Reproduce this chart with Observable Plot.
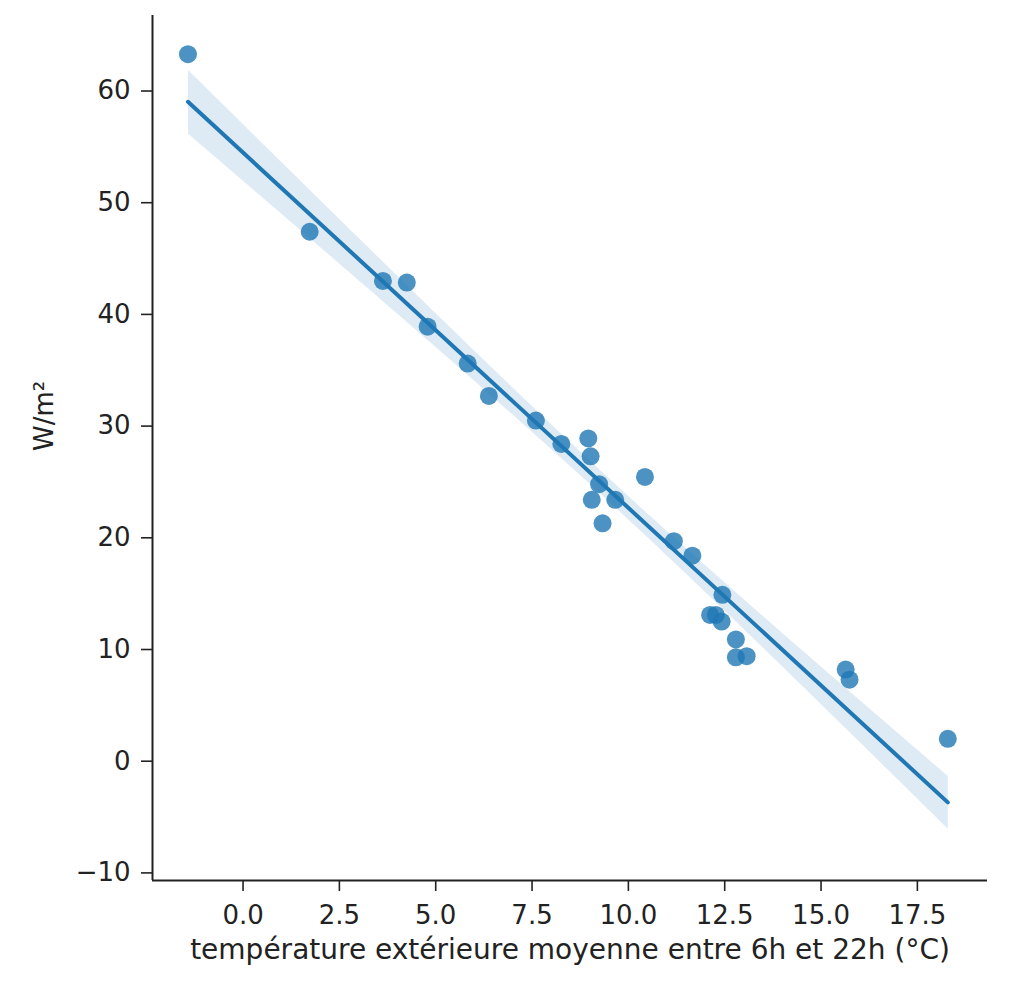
<!DOCTYPE html>
<html>
<head>
<meta charset="utf-8">
<script src="https://cdn.jsdelivr.net/npm/d3@7"></script>
<script src="https://cdn.jsdelivr.net/npm/@observablehq/plot@0.6"></script>
<style>
  html, body { margin: 0; padding: 0; background: #fff; }
  #chart svg { display: block; }
</style>
</head>
<body>
<div id="chart"></div>
<script>
// Outdoor mean temperature between 6h and 22h (°C)
const temperature = [-1.43, 1.73, 3.63, 4.25, 4.79, 5.83, 6.38, 7.60, 8.26, 8.96, 9.02, 9.24, 9.05, 9.66, 9.33, 10.43, 11.18, 11.66, 12.44, 12.12, 12.27, 12.42, 12.79, 12.79, 13.07, 15.64, 15.74, 18.29];
// Power (W/m²)
const power = [63.3, 47.4, 43.0, 42.85, 38.9, 35.6, 32.7, 30.5, 28.4, 28.9, 27.3, 24.8, 23.4, 23.4, 21.3, 25.45, 19.7, 18.4, 14.9, 13.1, 13.1, 12.5, 10.9, 9.3, 9.4, 8.2, 7.3, 2.0];
const xTicks = [0, 2.5, 5, 7.5, 10, 12.5, 15, 17.5];
const yTicks = [-10, 0, 10, 20, 30, 40, 50, 60];
const xLabel = "température extérieure moyenne entre 6h et 22h (°C)";
const yLabel = "W/m²";

const data = temperature.map((t, i) => ({t, p: power[i]}));
const xDomain = [-2.35, 19.32];
const yDomain = [-10.68, 66.76];
const blue = "#1f77b4";
const ink = "#222";

const chart = Plot.plot({
  width: 1020,
  height: 995,
  marginLeft: 152,
  marginRight: 33,
  marginTop: 15,
  marginBottom: 115,
  style: {fontFamily: "DejaVu Sans", fontSize: "26px", color: ink, background: "#fff"},
  x: {domain: xDomain},
  y: {domain: yDomain},
  marks: [
    Plot.dot(data, {x: "t", y: "p", r: 9, fill: blue, fillOpacity: 0.8, stroke: "none"}),
    Plot.linearRegressionY(data, {x: "t", y: "p", stroke: blue, strokeWidth: 4, fill: blue, fillOpacity: 0.15, ci: 0.95}),
    Plot.ruleX([xDomain[0]], {stroke: ink, strokeWidth: 2}),
    Plot.ruleY([yDomain[0]], {stroke: ink, strokeWidth: 2}),
    Plot.axisX({ticks: xTicks, tickFormat: d => d.toFixed(1), tickSize: 11, tickPadding: 14, fontSize: 26, stroke: ink, strokeWidth: 1.6, fill: ink, label: null}),
    Plot.axisY({ticks: yTicks, tickFormat: d => d < 0 ? "\u2212" + Math.abs(d) : String(d), tickSize: 11, tickPadding: 11, fontSize: 26, stroke: ink, strokeWidth: 1.6, fill: ink, label: null}),
    Plot.text([xLabel], {frameAnchor: "bottom", dy: 70, text: d => d, fontSize: 28, fill: ink, lineAnchor: "middle"}),
    Plot.text([yLabel], {frameAnchor: "left", dx: -108, dy: 3, rotate: -90, text: d => d, fontSize: 26, fill: ink})
  ]
});
document.getElementById("chart").appendChild(chart);
</script>
</body>
</html>
